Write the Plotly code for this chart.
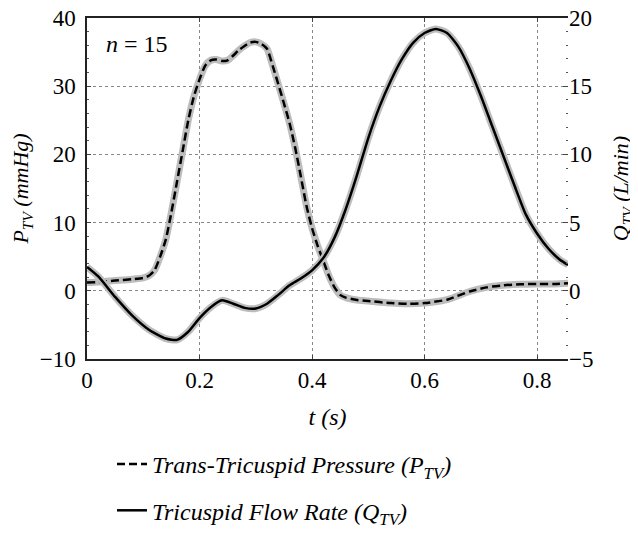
import plotly.graph_objects as go

# Trans-tricuspid pressure (mmHg)
t_p = [0, 0.02, 0.05, 0.08, 0.10, 0.11, 0.12, 0.13, 0.14, 0.15, 0.16, 0.17, 0.18, 0.19,
       0.20, 0.21, 0.22, 0.23, 0.24, 0.25, 0.26, 0.27, 0.28, 0.29, 0.30, 0.31, 0.32, 0.33,
       0.34, 0.35, 0.36, 0.37, 0.38, 0.39, 0.40, 0.41, 0.42, 0.43, 0.44, 0.45, 0.46, 0.48,
       0.50, 0.54, 0.57, 0.60, 0.64, 0.68, 0.71, 0.74, 0.77, 0.80, 0.83, 0.855]
p_tv = [1.2, 1.3, 1.5, 1.7, 1.9, 2.2, 3.0, 5.0, 7.5, 11.5, 16.0, 20.5, 25.0, 28.5,
        31.0, 33.0, 33.8, 33.9, 33.7, 33.8, 34.5, 35.3, 35.9, 36.4, 36.5, 36.2, 35.5, 33.0,
        30.3, 27.5, 24.6, 21.0, 16.8, 12.5, 9.2, 6.6, 4.4, 2.2, 0.5, -0.6, -1.0, -1.35,
        -1.5, -1.8, -1.9, -1.8, -1.3, -0.1, 0.5, 0.8, 0.95, 1.0, 1.0, 1.1]

# Tricuspid flow rate (L/min)
t_q = [0, 0.02, 0.05, 0.08, 0.11, 0.14, 0.16, 0.18, 0.20, 0.22, 0.24, 0.26, 0.28, 0.30,
       0.32, 0.34, 0.36, 0.38, 0.40, 0.42, 0.44, 0.46, 0.48, 0.50, 0.52, 0.54, 0.56, 0.58,
       0.60, 0.62, 0.64, 0.66, 0.68, 0.70, 0.72, 0.74, 0.76, 0.78, 0.80, 0.82, 0.84, 0.855]
q_tv = [1.75, 1.05, -0.45, -1.8, -2.85, -3.5, -3.6, -3.0, -2.0, -1.2, -0.7, -0.95, -1.25, -1.3,
        -0.95, -0.3, 0.4, 0.9, 1.5, 2.4, 3.9, 6.0, 8.5, 11.2, 13.5, 15.4, 17.0, 18.2,
        18.9, 19.2, 18.9, 17.9, 16.3, 14.3, 12.1, 9.9, 7.7, 5.6, 4.2, 3.1, 2.3, 1.9]

x_ticks = [0, 0.2, 0.4, 0.6, 0.8]
x_tick_text = ["0", "0.2", "0.4", "0.6", "0.8"]
y_left_ticks = [-10, 0, 10, 20, 30, 40]
y_right_ticks = [-5, 0, 5, 10, 15, 20]

FONT = "Liberation Serif"
HALO = "#bdbdbd"
SPL = dict(shape="spline", smoothing=0.6)

# figure is drawn at an 8px page offset (body margin)
W, H = 630, 528
ML, MR, MT, MB = 79, 70, 10, 177
PW, PH = W - ML - MR, H - MT - MB

fig = go.Figure()
# grey variability bands (halo)
fig.add_trace(go.Scatter(x=t_p, y=p_tv, mode="lines", line=dict(color=HALO, width=7, **SPL),
                         showlegend=False, hoverinfo="skip"))
fig.add_trace(go.Scatter(x=t_q, y=q_tv, mode="lines", yaxis="y2",
                         line=dict(color=HALO, width=7, **SPL),
                         showlegend=False, hoverinfo="skip"))
fig.add_trace(go.Scatter(x=t_p, y=p_tv, mode="lines", name="Trans-Tricuspid Pressure (P<sub>TV</sub>)",
                         line=dict(color="black", width=2.5, dash="8px,4px", **SPL),
                         legendgroup="p"))
fig.add_trace(go.Scatter(x=t_q, y=q_tv, mode="lines", yaxis="y2", name="Tricuspid Flow Rate (Q<sub>TV</sub>)",
                         line=dict(color="black", width=2.5, **SPL),
                         legendgroup="q"))

fig.add_annotation(x=0.03, y=36.2, xref="x", yref="y", text="<i>n</i> = 15", showarrow=False,
                   font=dict(family=FONT, size=24, color="black"), xanchor="left")

fig.update_layout(
    width=W, height=H,
    margin=dict(l=ML, r=MR, t=MT, b=MB, autoexpand=False),
    paper_bgcolor="white", plot_bgcolor="white",
    font=dict(family=FONT, size=23, color="black"),
    xaxis=dict(range=[0, 0.855], tickvals=x_ticks, ticktext=x_tick_text, automargin=False,
               showline=True, linecolor="#222", linewidth=1.5, mirror="ticks",
               ticks="inside", ticklen=4, tickcolor="#444", ticklabeloverflow="allow",
               tickfont=dict(family=FONT, size=23),
               showgrid=True, gridcolor="#888", griddash="dot", gridwidth=1,
               zeroline=False,
               title=dict(text="<i>t (s)</i>", font=dict(family=FONT, size=24), standoff=16)),
    yaxis=dict(range=[-10, 40], tickvals=y_left_ticks, automargin=False,
               showline=True, linecolor="#222", linewidth=1.5, mirror=False,
               ticks="inside", ticklen=4, tickcolor="#444", ticklabelstandoff=5,
               ticklabeloverflow="allow",
               tickfont=dict(family=FONT, size=23),
               minor=dict(dtick=2, ticks="inside", ticklen=2, tickcolor="#555", showgrid=False),
               showgrid=True, gridcolor="#888", griddash="dot", gridwidth=1,
               zeroline=False,
               title=dict(text="<i>P<sub>TV</sub> (mmHg)</i>", font=dict(family=FONT, size=22), standoff=8)),
    yaxis2=dict(range=[-5, 20], tickvals=y_right_ticks, overlaying="y", side="right", automargin=False,
                showline=False, ticks="inside", ticklen=5, tickcolor="#444",
                ticklabeloverflow="allow",
                tickfont=dict(family=FONT, size=23),
                minor=dict(dtick=1, ticks="inside", ticklen=2, tickcolor="#555", showgrid=False),
                showgrid=False, zeroline=False,
                title=dict(text="<i>Q<sub>TV</sub> (L/min)</i>", font=dict(family=FONT, size=22), standoff=20)),
    legend=dict(x=(104 - ML) / PW, xanchor="left", y=-(434 - (MT + PH)) / PH, yanchor="top",
                orientation="v", font=dict(family=FONT, size=24, style="italic"),
                tracegroupgap=12, bgcolor="rgba(0,0,0,0)"),
    showlegend=True,
)

fig.write_html("out.html")
